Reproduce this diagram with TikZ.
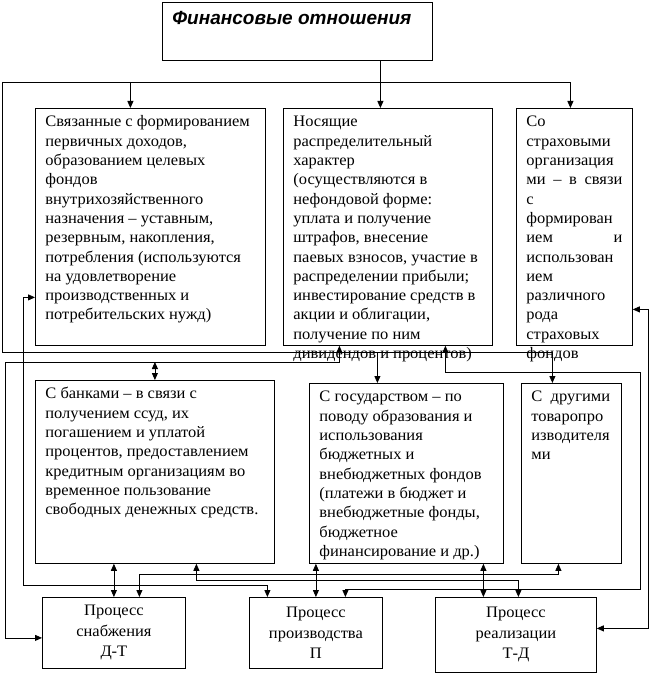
\documentclass[tikz,border=0pt]{standalone}
\usepackage{fontspec}
\setmainfont[FakeStretch=1.03]{Liberation Serif}
\newfontfamily\titlefont{Liberation Sans}
\usetikzlibrary{arrows.meta,calc}
% text set from the top left corner of a box of given size
\newcommand{\boxtext}[3]{\parbox[t][\dimexpr#2pt-10pt\relax][t]{\dimexpr#1pt-20pt\relax}{\raggedright\hyphenpenalty=10000\strut#3}}
\tikzset{
  relbox/.style={draw, line width=0.8pt, anchor=north west, inner xsep=10pt, inner ysep=5pt,
    font=\fontsize{16}{19.3}\selectfont},
  procbox/.style={draw, line width=0.8pt, anchor=north west, align=center, inner sep=0pt,
    font=\fontsize{16}{20.5}\selectfont},
  link/.style={line width=0.8pt},
  linkarrow/.style={link, -{Triangle[length=7pt,width=6pt]}},
  linkboth/.style={link, {Triangle[length=7pt,width=6pt]}-{Triangle[length=7pt,width=6pt]}},
}

\begin{document}
\begin{tikzpicture}[x=1pt, y=-1pt]
  \useasboundingbox (0,0) rectangle (649,674);

  % boxes
  \node[relbox, inner ysep=7pt, font=\titlefont\bfseries\itshape\fontsize{19}{22}\selectfont] (fin) at (162,2)
    {\boxtext{270}{54}{Финансовые отношения}};
  \node[relbox] (perv) at (35,108) {\boxtext{230}{237}{Связанные с формированием\\
    первичных доходов,\\ образованием целевых\\ фондов\\ внутрихозяйственного\\
    назначения – уставным,\\ резервным, накопления,\\ потребления (используются\\
    на удовлетворение\\ производственных и\\ потребительских нужд)}};
  \node[relbox] (raspr) at (283,108) {\boxtext{209}{237}{Носящие\\ распределительный\\
    характер\\ (осуществляются в\\ нефондовой форме:\\ уплата и получение\\
    штрафов, внесение\\ паевых взносов, участие в\\ распределении прибыли;\\
    инвестирование средств в\\ акции и облигации,\\ получение по ним\\
    дивидендов и процентов)}};
  \node[relbox] (strah) at (516,108) {\boxtext{116}{237}{Со\\ страховыми\\ организация\\
    ми \hfill – \hfill в \hfill связи\\ с\\ формирован\\ ием \hfill и\\ использован\\ ием\\
    различного\\ рода\\ страховых\\ фондов}};
  \node[relbox] (bank) at (35,380) {\boxtext{239}{183}{С банками – в связи с\\
    получением ссуд, их\\ погашением и уплатой\\ процентов, предоставлением\\
    кредитным организациям во\\ временное пользование\\ свободных денежных средств.}};
  \node[relbox] (gos) at (309,383) {\boxtext{194}{180}{С государством – по\\
    поводу образования и\\ использования\\ бюджетных и\\ внебюджетных фондов\\
    (платежи в бюджет и\\ внебюджетные фонды,\\ бюджетное\\ финансирование и др.)}};
  \node[relbox] (tovar) at (521,383) {\boxtext{100}{180}{С\ \ другими\\ товаропро\\
    изводителя\\ ми}};
  \node[procbox, minimum width=143pt, minimum height=71pt] (snab) at (42,597)
    {Процесс\\ снабжения\\ Д-Т};
  \node[procbox, minimum width=133pt, minimum height=71pt] (proizv) at (249,597)
    {Процесс\\ производства\\ П};
  \node[procbox, minimum width=161pt, minimum height=75pt] (real) at (435,597)
    {Процесс\\ реализации\\ Т-Д};

  % channels
  \coordinate (busT) at (2,82);
  \coordinate (busM) at (2,352);
  \coordinate (loopL) at (5,362);
  \coordinate (loopLL) at (23,0);
  \coordinate (loopR) at (640,372);
  \coordinate (loopRR) at (648,0);
  \coordinate (lowA) at (0,574);
  \coordinate (lowB) at (0,580);
  \coordinate (lowC) at (0,585);
  \coordinate (lowD) at (0,589);

  % connector ends
  \coordinate (trunk) at ([xshift=83pt]fin.south);
  \coordinate (inPerv) at ([xshift=-20pt]perv.north);
  \coordinate (inRaspr) at ([xshift=-7.5pt]raspr.north);
  \coordinate (inStrah) at ([xshift=-4pt]strah.north);
  \coordinate (inGos) at ([xshift=-29pt]gos.north);
  \coordinate (inTovar) at ([xshift=-19pt]tovar.north);
  \coordinate (pervW) at ([yshift=-70.5pt]perv.west);
  \coordinate (rasprL) at ([xshift=-48.5pt]raspr.south);
  \coordinate (rasprR) at ([xshift=57.5pt]raspr.south);
  \coordinate (strahE) at ([yshift=-82.5pt]strah.east);
  \coordinate (bankR) at ([xshift=41.5pt]bank.south);
  \coordinate (snabR) at ([xshift=25.5pt]snab.north);
  \coordinate (snabW) at ([yshift=-5pt]snab.west);
  \coordinate (proizvL) at ([xshift=-48.5pt]proizv.north);
  \coordinate (proizvR) at ([xshift=29.5pt]proizv.north);
  \coordinate (realN) at ([xshift=2.5pt]real.north);
  \coordinate (realL) at ([xshift=-32.5pt]real.north);
  \coordinate (realE) at ([yshift=6.5pt]real.east);
  \coordinate (tovarS) at ([xshift=-13pt]tovar.south);

  % from the title down
  \draw[link] (trunk) -- (trunk |- busT);
  \draw[linkarrow] (busT) -| (inStrah);
  \draw[linkarrow] (inPerv |- busT) -- (inPerv);
  \draw[linkarrow] (inRaspr |- busT) -- (inRaspr);
  \draw[linkarrow] (busT) -- (busM) -| (inTovar);
  \draw[linkarrow] (inGos |- busM) -- (inGos);

  % loops round the sides
  \draw[linkboth] (rasprL) |- (loopL) -- (loopL |- snabW) -- (snabW);
  \draw[linkboth] (bank.north) -- (bank.north |- loopL);
  \draw[linkboth] (rasprR) |- (loopR) -- (loopR |- lowD) -| (proizvR);
  \draw[linkboth] (strahE) -- (strahE -| loopRR) -- (loopRR |- realE) -- (realE);
  \draw[linkboth] (pervW) -- (pervW -| loopLL) -- (loopLL |- lowC) -| (proizvL);

  % lower links
  \draw[linkboth] (snabR) -- (snabR |- lowA) -| (tovarS);
  \draw[linkboth] (bankR) -- (bankR |- lowB) -| (realN);
  \draw[linkboth] (snab.north) -- (snab.north |- bank.south);
  \draw[linkboth] (proizv.north) -- (proizv.north |- gos.south);
  \draw[linkboth] (realL) -- (realL |- gos.south);
\end{tikzpicture}
\end{document}
